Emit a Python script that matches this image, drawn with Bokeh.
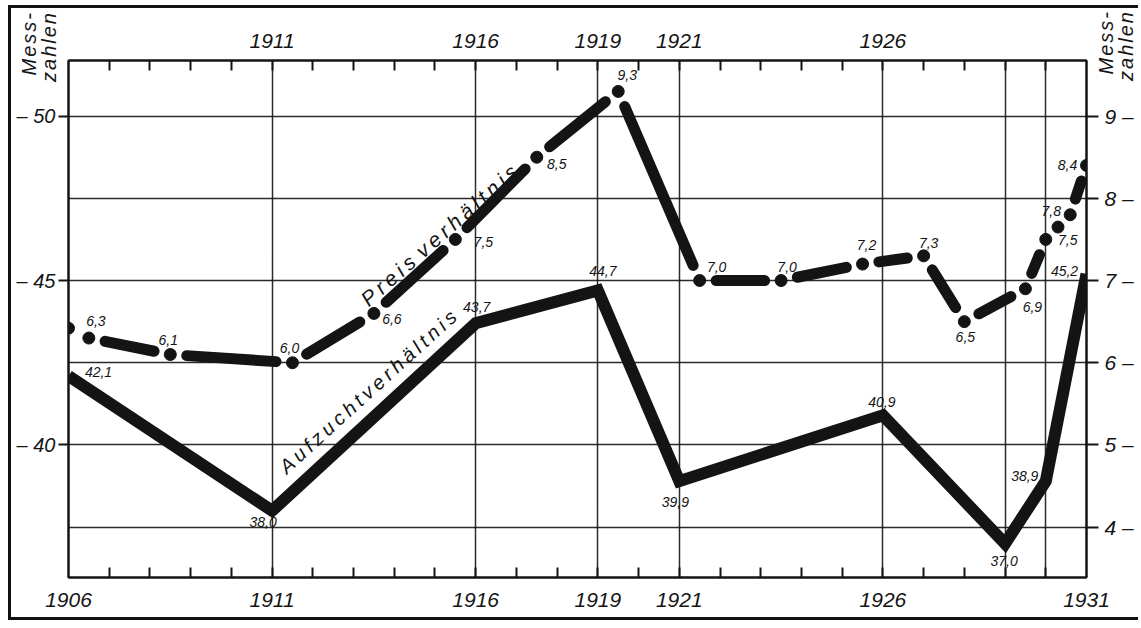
import math
from bokeh.plotting import figure
from bokeh.models import Range1d, LinearAxis, FixedTicker, Label, ColumnDataSource, Div
from bokeh.layouts import column
from bokeh.core.properties import value
from bokeh.embed import file_html
from bokeh.resources import INLINE

# ---------------- data ----------------
auf_years = [1906, 1911, 1916, 1919, 1921, 1926, 1929, 1930, 1931]
auf_values = [42.1, 38.0, 43.7, 44.7, 38.9, 40.9, 37.0, 38.9, 45.2]
auf_labels = ["42,1", "38,0", "43,7", "44,7", "39,9", "40,9", "37,0", "38,9", "45,2"]

preis_years = [1906, 1906.5, 1908.5, 1911.5, 1913.5, 1915.5, 1917.5, 1919.5,
               1921.5, 1923.5, 1925.5, 1927, 1928, 1929.5, 1930, 1930.6, 1931]
preis_values = [6.42, 6.3, 6.1, 6.0, 6.6, 7.5, 8.5, 9.3,
                7.0, 7.0, 7.2, 7.3, 6.5, 6.9, 7.5, 7.8, 8.4]
preis_labels = ["", "6,3", "6,1", "6,0", "6,6", "7,5", "8,5", "9,3",
                "7,0", "7,0", "7,2", "7,3", "6,5", "6,9", "7,5", "7,8", "8,4"]

bottom_ticks = [1906, 1911, 1916, 1919, 1921, 1926, 1931]
top_ticks = [1911, 1916, 1919, 1921, 1926]
year_minor = list(range(1907, 1931))
vgrid_years = [1911, 1916, 1919, 1921, 1926, 1929, 1930]
left_ticks = [40, 45, 50]
left_grid = [37.5, 40, 42.5, 45, 47.5, 50]
right_ticks = [4, 5, 6, 7, 8, 9]
axis_title_lines = ["Mess-", "zahlen"]

# ---------------- styling / layout ----------------
INK = "#141414"
FONT = "Liberation Sans"
W, H = 1130, 615
MB_L, MB_R, MB_T, MB_B = 57, 55, 52, 46
FW, FH = W - MB_L - MB_R, H - MB_T - MB_B

XR = (1906, 1931)
YL = (35.97, 51.69)
YR = ((YL[0] - 27.5) / 2.5, (YL[1] - 27.5) / 2.5)

# label offsets (screen px, dy positive = down)
auf_dx = [30, -9, 1, 5, -4, -1, -1, -21, -22]
auf_dy = [-4, 11, -16, -19, 21, -13, 17, -5, -3]
preis_dx = [0, 7, -2, -3, 18, 28, 20, 9, 17, 6, 4, 5, 1, 7, 22, -19, -19]
preis_dy = [0, -17, -15, -15, 6, 3, 7, -16, -14, -14, -19, -13, 15, 18, 1, -4, 0]

p = figure(width=W, height=H, x_range=Range1d(*XR), y_range=Range1d(*YL),
           output_backend="svg", toolbar_location=None,
           min_border_left=MB_L, min_border_right=MB_R,
           min_border_top=MB_T, min_border_bottom=MB_B,
           background_fill_color="white", border_fill_color="white")
p.extra_y_ranges = {"right": Range1d(*YR)}
p.styles = {"margin-left": "8px", "margin-top": "5px",
            "border-left": "3px solid #111", "border-top": "3px solid #111",
            "border-bottom": "3px solid #111"}

p.outline_line_color = INK
p.outline_line_width = 2

# grid
p.xgrid.ticker = FixedTicker(ticks=vgrid_years)
p.ygrid.ticker = FixedTicker(ticks=left_grid)
for g in (p.xgrid, p.ygrid):
    g.grid_line_color = INK
    g.grid_line_width = 1.5
    g.grid_line_alpha = 0.9


def style_axis(ax, size):
    ax.axis_line_color = INK
    ax.axis_line_width = 2
    ax.major_tick_line_color = INK
    ax.major_tick_line_width = 2
    ax.minor_tick_line_color = INK
    ax.minor_tick_line_width = 2
    ax.major_label_text_font = FONT
    ax.major_label_text_font_style = "italic"
    ax.major_label_text_font_size = size
    ax.major_label_text_color = INK


bottom = p.xaxis[0]
bottom.ticker = FixedTicker(ticks=bottom_ticks, minor_ticks=year_minor)
style_axis(bottom, "21px")
bottom.major_tick_in = 0
bottom.major_tick_out = 0
bottom.minor_tick_in = 10
bottom.minor_tick_out = 0
bottom.major_label_standoff = 15

top = LinearAxis(ticker=FixedTicker(ticks=top_ticks, minor_ticks=year_minor))
style_axis(top, "21px")
top.major_tick_in = 0
top.major_tick_out = 0
top.minor_tick_in = 10
top.minor_tick_out = 0
top.major_label_standoff = 13
p.add_layout(top, "above")

left = p.yaxis[0]
left.ticker = FixedTicker(ticks=left_ticks)
style_axis(left, "20px")
left.major_tick_in = 0
left.major_tick_out = 10
left.minor_tick_in = 0
left.minor_tick_out = 0
left.major_label_standoff = 3
left.major_label_overrides = {t: "\u2013 " + str(t) for t in left_ticks}

right = LinearAxis(y_range_name="right", ticker=FixedTicker(ticks=right_ticks))
style_axis(right, "21px")
right.major_tick_in = 0
right.major_tick_out = 12
right.minor_tick_in = 0
right.minor_tick_out = 0
right.major_label_standoff = 6
right.major_label_overrides = {t: str(t) + " \u2013" for t in right_ticks}
p.add_layout(right, "right")

# ---------------- Aufzuchtverhältnis (solid) ----------------
p.line(auf_years, auf_values, line_color=INK, line_width=12, line_join="miter")

src_a = ColumnDataSource(dict(x=auf_years, y=auf_values, t=auf_labels, dx=auf_dx, dy=auf_dy))
p.text(x="x", y="y", text="t", x_offset="dx", y_offset="dy", source=src_a,
       text_align="center", text_baseline="middle", text_color=INK,
       text_font=value(FONT), text_font_style="italic", text_font_size="14px")

# ---------------- Preisverhältnis (dash-dot) ----------------
sxp = FW / (XR[1] - XR[0])
syp = FH / (YR[1] - YR[0])
gap = 16.5
seg_x0, seg_y0, seg_x1, seg_y1, mid_x, mid_y = [], [], [], [], [], []
for xa, ya, xb, yb in zip(preis_years[:-1], preis_values[:-1], preis_years[1:], preis_values[1:]):
    L = math.hypot((xb - xa) * sxp, (yb - ya) * syp)
    if L > 2 * gap + 6:
        f = gap / L
        seg_x0.append(xa + (xb - xa) * f)
        seg_y0.append(ya + (yb - ya) * f)
        seg_x1.append(xb - (xb - xa) * f)
        seg_y1.append(yb - (yb - ya) * f)
    elif L > 26:
        mid_x.append((xa + xb) / 2)
        mid_y.append((ya + yb) / 2)

p.segment(x0=seg_x0, y0=seg_y0, x1=seg_x1, y1=seg_y1, y_range_name="right",
          line_color=INK, line_width=11, line_cap="round")
p.scatter(preis_years, preis_values, y_range_name="right", size=12,
          fill_color=INK, line_color=INK)
p.scatter(mid_x, mid_y, y_range_name="right", size=12, fill_color=INK, line_color=INK)

src_p = ColumnDataSource(dict(x=preis_years, y=preis_values, t=preis_labels,
                              dx=preis_dx, dy=preis_dy))
p.text(x="x", y="y", text="t", x_offset="dx", y_offset="dy", source=src_p,
       y_range_name="right", text_align="center", text_baseline="middle",
       text_color=INK, text_font=value(FONT), text_font_style="italic",
       text_font_size="14px")

# ---------------- series names ----------------
TS = "\u2009"
p.add_layout(Label(x=1915.1, y=7.55, y_range_name="right",
                   text=TS.join("Preis") + TS + TS + TS.join("verhältnis"),
                   angle=math.radians(41.5), text_align="center", text_baseline="middle",
                   text_font=FONT, text_font_style="italic", text_font_size="21px",
                   text_color=INK))
p.add_layout(Label(x=1913.35, y=41.62,
                   text=TS.join("Aufzuchtverhältnis"), angle=math.radians(42.3),
                   text_align="center", text_baseline="middle",
                   text_font=FONT, text_font_style="italic", text_font_size="20px",
                   text_color=INK))

# ---------------- "Messzahlen" axis titles (rotated, outside the frame) ----------------
BOX = 84


def axis_title(left_px, top_px):
    inner = ("<div style=\"text-align:right;font-family:'Liberation Sans';font-style:italic;"
             "font-size:20px;line-height:20px;letter-spacing:2px;color:%s;"
             "white-space:nowrap;width:%dpx\">%s</div>"
             % (INK, BOX, "<br>".join(axis_title_lines)))
    return Div(text=inner, width=BOX, height=40,
               styles={"position": "absolute", "left": "%dpx" % left_px,
                       "top": "%dpx" % (top_px + BOX), "transform": "rotate(-90deg)",
                       "transform-origin": "left top", "margin": "0", "padding": "0"})


root = column(p, axis_title(19, 11), axis_title(1096, 10))

open("out.html", "w").write(file_html(root, INLINE))
